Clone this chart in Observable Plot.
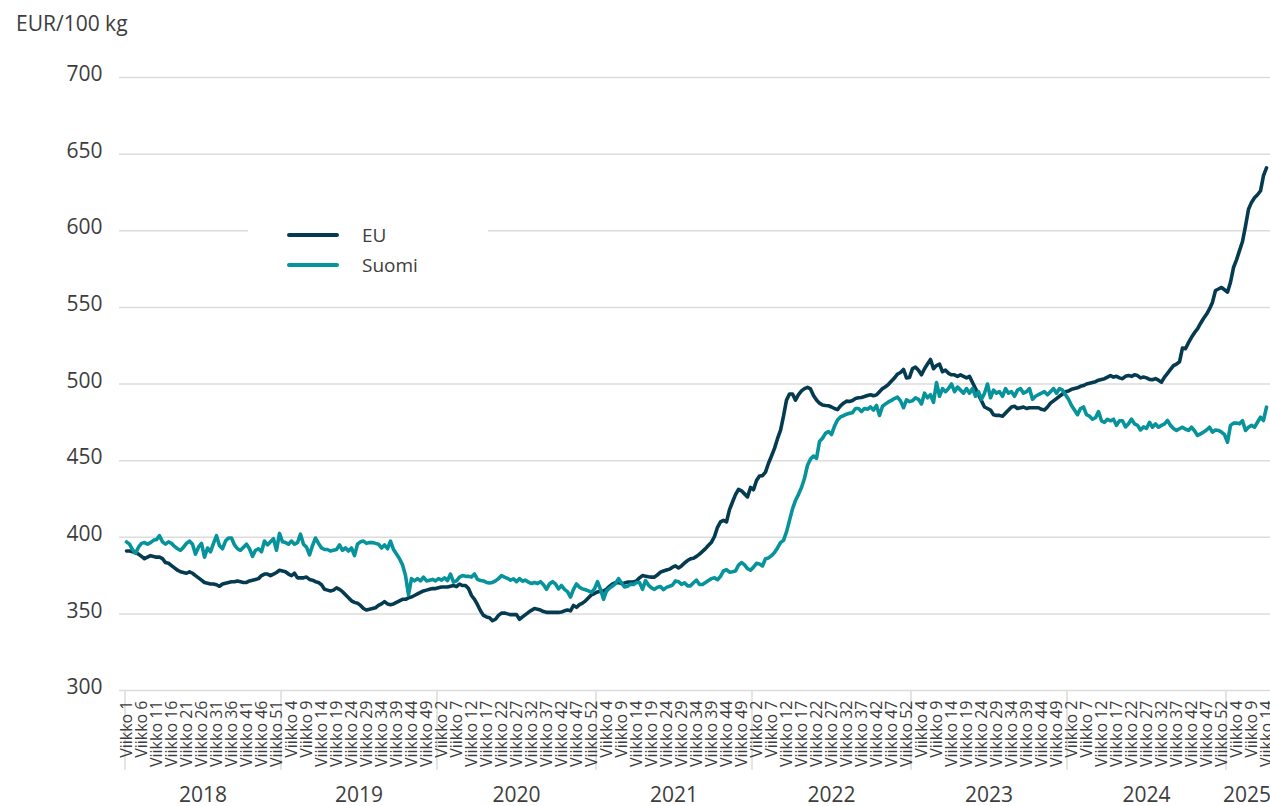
<!DOCTYPE html>
<html>
<head>
<meta charset="utf-8">
<script src="https://cdn.jsdelivr.net/npm/d3@7"></script>
<script src="https://cdn.jsdelivr.net/npm/@observablehq/plot@0.6"></script>
<style>
  html, body { margin: 0; padding: 0; overflow: hidden; background: #fff; }
  #wrap { position: relative; width: 1290px; height: 806px; font-family: "Open Sans", sans-serif; color: #3d3d3d; }
  #title { position: absolute; left: 16px; top: 13px; font-size: 21px; line-height: 21px; white-space: nowrap; }
  #chart { position: absolute; left: 0; top: 50px; }
  #legend { position: absolute; left: 248px; top: 214px; }
</style>
</head>
<body>
<div id="wrap">
  <div id="title">EUR/100 kg</div>
  <div id="chart"></div>
  <div id="legend"></div>
</div>
<script>
// ---- Data ----
const years = [2018, 2019, 2020, 2021, 2022, 2023, 2024, 2025];
const weeksPerYear = [52, 52, 53, 52, 53, 52, 53, 14];
const yTicks = [300, 350, 400, 450, 500, 550, 600, 650, 700];
const seriesNames = ["EU", "Suomi"];
const seriesColors = ["#043b50", "#06939b"];

const eu2018 = [391,391,390.5,390,389,387.5,386,387,388,387.5,387,387,386,383.5,383,381.5,380,378.5,377.5,377,376.5,377.5,376.5,375,373.5,372,370.5,370,369.5,369.5,369,368,369.5,370,370.5,371,371,371.5,371,370.5,370.5,371.5,372,372.5,373,375,376,376,375,376,377,378.5];
const eu2019 = [378,377.5,376,375,376.5,373.5,373.5,373.5,374,372.5,372,371,370.5,369,366,365.5,365,365.5,367,366,364.5,362.5,360.5,358.5,357.5,357,355.5,353.5,352.5,353,353.5,354,355.5,356.5,358,356.5,356,356.5,357.5,358.5,359.5,359.5,360.5,361,362,363,364,365,365.5,366,366.5,366.5];
const eu2020 = [367,367.5,367.5,367.5,368,368.5,367.8,369.5,368.5,368.5,366.5,362,359.5,356,352,349,348,347.5,345.5,346.5,349,350.5,350.5,350,349.5,349.5,349.5,346.5,348,349.5,351,352.3,353.5,353,352.5,351.5,351,351,351,351,351,351.2,352,352.5,352,355.5,354.3,356,357,358.5,360.5,362.5,363.3];
const eu2021 = [364.3,364.8,365,366,368,369.6,370.3,370.5,369.8,370.2,370.7,370.7,370.8,371.5,373.5,375,374.6,374.2,374,374,375.5,377.2,378,378.6,379.2,380.5,381.3,380,381.3,383.2,384.8,385.9,386.3,387.5,389,390.8,392.6,394.8,396.8,400.5,406.5,410,411,410,418,423,427.8,431.3,430.3,428.3,426.3,432.5];
const eu2022 = [431,437,440,440.2,442.5,448.3,453,458,464.3,469.7,479,489.5,493.5,493.5,489.5,493,495.5,497,497.8,496.8,492.5,489.5,487.5,486.3,486,485.8,485,484,483.3,485.7,487.5,488.8,488.6,489.2,490.5,491,491.2,491.8,492.5,493,492.3,492.9,495,497,498.2,499.8,502,504,506.5,507.5,509.5,504,504.3];
const eu2023 = [510,511,509,506,510,513,516,510,512,513,508,509,507,506,506,505,506,505,504,505,501,497,493,489,485,484,483,480,479.5,479.5,479,481,483,485,485.5,484,484.5,485,484,484.5,484.5,484.5,484.5,483.5,483,485,487.5,489,490.5,492,493.5,495];
const eu2024 = [495.5,496.5,497,497.5,498.5,499,500,500.5,501,501.5,502.5,503,503.5,504.5,505.5,504.5,505,504,503.5,505,505.5,505,506,505.5,504,504.5,504,503,502.8,503.5,502.5,501.2,504.5,507,509.5,512,513,514.5,523.5,523,527,530.5,533.5,536,539.5,542.7,545.5,549,553.4,561,562,563,561.5];
const eu2025 = [559.9,566.4,576,581,587,593,603,614,618.5,621.5,623.5,626,636,641];

const suomi2018 = [397,395.5,392,389.5,393.5,396,396.5,395.5,396.5,398,398.5,401,397,395.5,397,396,394,392.5,391.5,393.5,396,397.5,395.5,389,393.5,396,387,393,390.5,396,401,394.5,392.5,397.5,399.5,399.5,395,392.5,391.5,393.5,395.5,392.5,387.5,391.5,392.5,390.5,397.5,395,397,399,391.5,402.5];
const suomi2019 = [397,396.5,395.5,397.5,395.5,396.5,402,395.5,393.5,388.5,394.5,399.5,396,393,392,392,391,391.5,392,395,391.5,393,391,393,388,395.5,397,397.5,396,396.5,396.5,396,395.5,393,395,392.5,397.5,392,389,386,382,375,362.5,373,371.5,373,371.5,374,371.5,372,372.5,371.5];
const suomi2020 = [373,372,373.5,371.7,376,370.7,371.5,374,375,374.5,374.5,374,376,372.5,371.8,371.5,370.5,370.2,370.5,371.5,373,375,374,373.2,372,372.8,371,373,371.3,372,370.7,369.8,370.5,369.8,371,369,366,369.5,371,369.5,366.3,368.5,366,364.5,361,366,369.5,367.4,366.3,365.7,365,364.1,366.3];
const suomi2021 = [371,366,359.5,365,366.8,368.2,369.8,373,370.2,367.5,368,369.4,369.2,370.5,370.5,366,371.7,368.8,367,366,367.3,367.8,365.8,367.3,368,368.8,371.5,371,369.3,370.3,368.3,368.3,370.3,372,369.2,369.2,370.5,371.8,373,373.5,372.3,374.5,378,378.8,377.2,377.5,378,381.8,383.5,382,379.5,378.5];
const suomi2022 = [380.5,383,382.6,381.3,386,386.5,388,390,393,396.5,398,403.5,411,418.5,424,428,432.5,438.5,447,451,453,451.5,462.5,464.6,467.8,469,467,472.5,476.5,478.5,479.3,480.3,480.9,481.3,484,484,482,484,483.5,485,483,486,479.5,485.5,487,488.3,489.3,490.5,491.5,489,484.5,489.6,488.5];
const suomi2023 = [489,491,490,487,494,491,493,488,501,492,497,495,497,500,495,498,496,494,497,494,497,492,495,490,494,500,491,496,494,495,492,497,494,495,492,496,497,494,495,497,490,492,493,494,495,493,495,497,494,497,496,493];
const suomi2024 = [490,486,483,480,484,485,480,479,477,478,482,476,475,477,476,477,473,476,476,472,474,477,474,473,470,472,471,475,471.8,474,471.8,473,474,476.2,473,471,469.7,470.8,471.8,470.5,469.7,471.8,469.5,466.4,467.5,468.6,470,471.8,468.6,470,469.7,468.6,467];
const suomi2025 = [462,473,474.5,474.5,474,476,469.7,471.8,473,471.8,475,478.3,476.2,484.9];

const euByYear = [eu2018, eu2019, eu2020, eu2021, eu2022, eu2023, eu2024, eu2025];
const suomiByYear = [suomi2018, suomi2019, suomi2020, suomi2021, suomi2022, suomi2023, suomi2024, suomi2025];

// ---- Table built from the arrays ----
const rows = [];
years.forEach((yr, k) => {
  for (let w = 1; w <= weeksPerYear[k]; w++) {
    rows.push({key: yr + "-" + w, year: yr, week: w, EU: euByYear[k][w - 1], Suomi: suomiByYear[k][w - 1]});
  }
});
const keys = rows.map(d => d.key);
const tickKeys = keys.filter((_, i) => i % 5 === 0);
const yearStarts = years.map(yr => yr + "-1");
const yearMidsOdd = [], yearMidsEven = [];
years.forEach((yr, k) => {
  const n = weeksPerYear[k];
  const item = {year: String(yr), key: yr + "-" + Math.ceil(n / 2)};
  (n % 2 === 0 ? yearMidsEven : yearMidsOdd).push(item);
});

// ---- Layout ----
const W = 1290, H = 756, mL = 119, mR = 17, mT = 27, mB = 116;
const step = (W - mL - mR) / keys.length;

const chart = Plot.plot({
  width: W, height: H,
  marginLeft: mL, marginRight: mR, marginTop: mT, marginBottom: mB,
  style: {fontFamily: '"Open Sans", sans-serif', color: "#3d3d3d", background: "transparent", overflow: "visible"},
  x: {type: "point", domain: keys, padding: 0.5, axis: null},
  y: {domain: [300, 700], axis: null},
  marks: [
    Plot.gridY(yTicks, {stroke: "#dcdcdc", strokeOpacity: 1, strokeWidth: 1.5}),
    Plot.ruleX(yearStarts, {x: d => d, dx: -step / 2, y1: 300, y2: 300, insetBottom: -80, stroke: "#dcdcdc", strokeWidth: 1.5}),
    Plot.axisY(yTicks, {tickSize: 0, tickPadding: 17, fontSize: 21, dy: -3, label: null}),
    Plot.axisX(tickKeys, {tickSize: 0, tickPadding: 10, tickRotate: -90, fontSize: 16, label: null,
      tickFormat: k => "Viikko " + k.split("-")[1]}),
    Plot.text(yearMidsOdd, {x: "key", text: "year", frameAnchor: "bottom", dy: 111, fontSize: 21}),
    Plot.text(yearMidsEven, {x: "key", text: "year", frameAnchor: "bottom", dy: 111, dx: step / 2, fontSize: 21}),
    Plot.line(rows, {x: "key", y: "EU", stroke: seriesColors[0], strokeWidth: 3.6, strokeLinejoin: "round", strokeLinecap: "round"}),
    Plot.line(rows, {x: "key", y: "Suomi", stroke: seriesColors[1], strokeWidth: 3.6, strokeLinejoin: "round", strokeLinecap: "round"})
  ]
});
document.getElementById("chart").appendChild(chart);

// ---- Legend ----
const ns = "http://www.w3.org/2000/svg";
const lg = document.createElementNS(ns, "svg");
lg.setAttribute("width", 240);
lg.setAttribute("height", 68);
lg.style.background = "#fff";
seriesNames.forEach((name, i) => {
  const cy = 21 + i * 30;
  const ln = document.createElementNS(ns, "line");
  ln.setAttribute("x1", 41); ln.setAttribute("x2", 89);
  ln.setAttribute("y1", cy); ln.setAttribute("y2", cy);
  ln.setAttribute("stroke", seriesColors[i]);
  ln.setAttribute("stroke-width", 4);
  ln.setAttribute("stroke-linecap", "round");
  lg.appendChild(ln);
  const tx = document.createElementNS(ns, "text");
  tx.setAttribute("x", 114); tx.setAttribute("y", cy);
  tx.setAttribute("dy", "0.35em");
  tx.setAttribute("font-size", 19);
  tx.setAttribute("font-family", '"Open Sans", sans-serif');
  tx.setAttribute("fill", "#3d3d3d");
  tx.textContent = name;
  lg.appendChild(tx);
});
document.getElementById("legend").appendChild(lg);
</script>
</body>
</html>
